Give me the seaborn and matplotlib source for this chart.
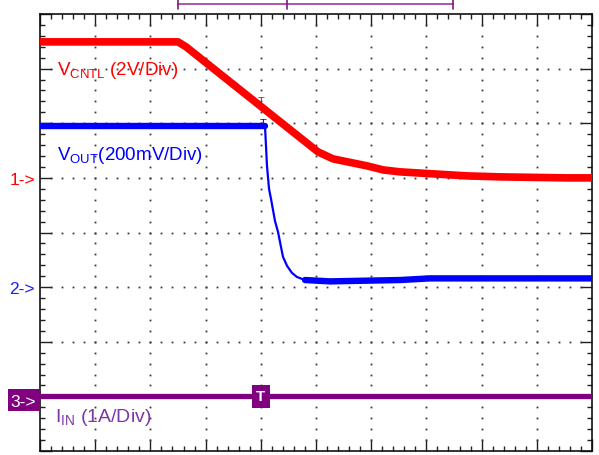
import numpy as np
import pandas as pd
import matplotlib
matplotlib.use("Agg")
import matplotlib.pyplot as plt
import seaborn as sns
from matplotlib.patches import Rectangle

sns.set_theme(style="white")
plt.rcParams["font.family"] = ["Liberation Sans", "DejaVu Sans"]
plt.rcParams["mathtext.fontset"] = "custom"
plt.rcParams["mathtext.rm"] = "Liberation Sans"
plt.rcParams["mathtext.it"] = "Liberation Sans:italic"
plt.rcParams["mathtext.bf"] = "Liberation Sans:bold"

# Channel 1: control voltage (V), time in screen divisions
t_cntl = [0.0, 2.50, 2.645, 5.036, 5.308, 5.616, 5.924, 6.214, 6.522,
          7.120, 7.736, 8.333, 9.547, 10.0]
v_cntl = [4.98, 4.98, 4.80, 0.952, 0.696, 0.568, 0.440, 0.293, 0.220,
          0.147, 0.073, 0.037, 0.0, 0.0]

# Channel 2: output voltage (V)
t_out = [0.0, 4.076, 4.094, 4.112, 4.149, 4.185, 4.257, 4.312, 4.366,
         4.402, 4.475, 4.565, 4.656, 4.801, 5.254, 6.522, 7.065, 10.0]
v_out = [0.590, 0.590, 0.517, 0.444, 0.360, 0.323, 0.242, 0.202, 0.147,
         0.111, 0.078, 0.052, 0.037, 0.026, 0.021, 0.026, 0.032, 0.032]

# Channel 3: input current (A)
t_in = [0.0, 10.0]
i_in = [0.0, 0.0]

# Channel ground positions (div) and vertical scales (units/div)
offset_cntl, scale_cntl = 5.0, 2.0
offset_out, scale_out = 3.0, 0.2
offset_in, scale_in = 1.0, 1.0
trigger_t = 4.0

RED = "#ff0000"
BLUE = "#0000ff"
PURPLE = "#800080"
PURPLE_TXT = "#7f35a6"

df_cntl = pd.DataFrame({"t": t_cntl, "div": np.array(v_cntl) / scale_cntl + offset_cntl})
df_out = pd.DataFrame({"t": t_out, "div": np.array(v_out) / scale_out + offset_out})
df_in = pd.DataFrame({"t": t_in, "div": np.array(i_in) / scale_in + offset_in})

W, H = 599, 456
fig = plt.figure(figsize=(W / 100, H / 100), dpi=100)
ax = fig.add_axes([40 / W, 4 / H, 552 / W, 437 / H])
ax.set_xlim(0, 10)
ax.set_ylim(0, 8)

# graticule dots along the major division lines
step = 0.2
for xv in range(1, 10):
    ys = np.arange(step, 8 - step / 2, step)
    ax.plot(np.full_like(ys, xv), ys, ls="none", marker="s", ms=1.3, mew=0,
            color="#3a3a3a", zorder=1)
for yv in range(1, 8):
    xs = np.arange(step, 10 - step / 2, step)
    ax.plot(xs, np.full_like(xs, yv), ls="none", marker="s", ms=1.3, mew=0,
            color="#3a3a3a", zorder=1)

# traces
sns.lineplot(data=df_in, x="t", y="div", color=PURPLE, linewidth=3.8, ax=ax,
             sort=False, estimator=None, zorder=3)
sns.lineplot(data=df_out, x="t", y="div", color=BLUE, linewidth=1.6, ax=ax,
             sort=False, estimator=None, zorder=4)
pre = df_out[df_out["t"] <= 4.08]
post = df_out[df_out["t"] >= 4.80]
sns.lineplot(data=pre, x="t", y="div", color=BLUE, linewidth=4.6, ax=ax,
             sort=False, estimator=None, zorder=4)
sns.lineplot(data=post, x="t", y="div", color=BLUE, linewidth=4.6, ax=ax,
             sort=False, estimator=None, zorder=4)
sns.lineplot(data=df_cntl, x="t", y="div", color=RED, linewidth=5.5, ax=ax,
             sort=False, estimator=None, zorder=5)

# trigger marks on the traces
y_red_trig = np.interp(trigger_t, df_cntl["t"], df_cntl["div"])
y_blue_trig = np.interp(trigger_t, df_out["t"], df_out["div"])
ax.annotate("T", xy=(trigger_t, y_red_trig), xytext=(0, 2), textcoords="offset points",
            ha="center", va="baseline", fontsize=8, color=RED, zorder=6)
ax.annotate("T", xy=(trigger_t, y_blue_trig), xytext=(1.5, 0), textcoords="offset points",
            ha="center", va="baseline", fontsize=8, color=BLUE, zorder=6)
ax.text(trigger_t, offset_in, "T", ha="center", va="center", fontsize=11,
        fontweight="bold", color="white", zorder=7,
        bbox=dict(boxstyle="square,pad=0.3", fc=PURPLE, ec="none"))

# channel labels
ax.text(0.31, 6.90, r"V$_{\mathrm{CNTL}}$ (2V/Div)", color=RED, fontsize=13.5,
        ha="left", va="baseline", zorder=6)
ax.text(0.31, 5.35, r"V$_{\mathrm{OUT}}$(200mV/Div)", color=BLUE, fontsize=13.5,
        ha="left", va="baseline", zorder=6)
ax.text(0.27, 0.55, r"I$_{\mathrm{IN}}$ (1A/Div)", color=PURPLE_TXT, fontsize=14,
        ha="left", va="baseline", zorder=6)

# ground markers
ax.text(-0.09, offset_cntl, "1->", color=RED, fontsize=12.5, ha="right",
        va="center_baseline", clip_on=False)
ax.text(-0.09, offset_out, "2->", color="#1a1aff", fontsize=12.5, ha="right",
        va="center_baseline", clip_on=False)
fig.patches.append(Rectangle((8 / W, (H - 412) / H), 32 / W, 22 / H,
                             transform=fig.transFigure, fc=PURPLE, ec="none"))
fig.text(36 / W, (H - 401) / H, "3->", color="white", fontsize=12.5,
         ha="right", va="center_baseline")

# record window bracket above the screen
br_y, br_top, br_bot = 8.19, 8.30, 8.10
ax.plot([2.5, 7.48], [br_y, br_y], color="#9a3aa0", lw=1.2, clip_on=False)
for xb in (2.5, 4.47, 7.48):
    ax.plot([xb, xb], [br_bot, br_top], color="#7a1a80", lw=1.2, clip_on=False)

# frame and ticks
ax.set_xticks(np.arange(0, 11, 1))
ax.set_yticks(np.arange(0, 9, 1))
ax.set_xticks(np.arange(0, 10.01, 0.2), minor=True)
ax.set_yticks(np.arange(0, 8.01, 0.2), minor=True)
ax.tick_params(which="both", direction="in", top=True, right=True,
               bottom=True, left=True, labelbottom=False, labelleft=False,
               color="#202020", width=1.0)
ax.tick_params(which="major", length=8.6)
ax.tick_params(which="minor", length=3.8)
ax.set_xlabel("")
ax.set_ylabel("")
for sp in ax.spines.values():
    sp.set_color("#101010")
    sp.set_linewidth(1.2)
ax.grid(False)

fig.savefig("out.png", dpi=100)
